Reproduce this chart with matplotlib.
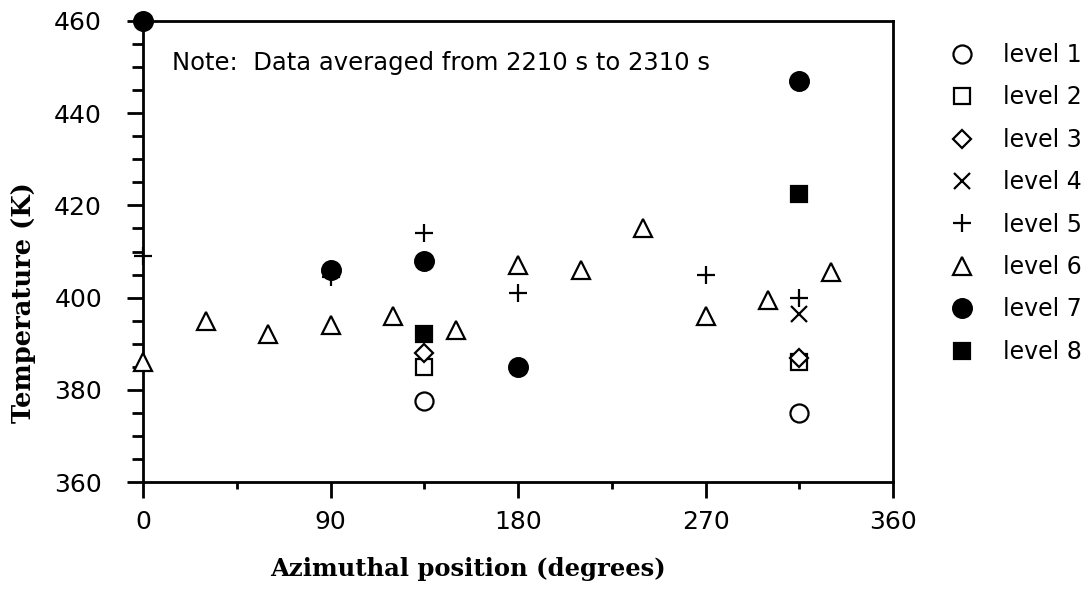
import matplotlib.pyplot as plt
from matplotlib.ticker import MultipleLocator

# ----- values ----------------------------------------------------------------
LABELS = ["level 1", "level 2", "level 3", "level 4",
          "level 5", "level 6", "level 7", "level 8"]

X_L1 = [135, 315]
Y_L1 = [377.5, 375]
X_L2 = [135, 315]
Y_L2 = [385, 386]
X_L3 = [135, 315]
Y_L3 = [388, 387]
X_L4 = [315]
Y_L4 = [396.5]
X_L5 = [0, 90, 135, 180, 270, 315]
Y_L5 = [409, 404.5, 414, 401, 405, 400]
X_L6 = [0, 30, 60, 90, 120, 150, 180, 210, 240, 270, 300, 330]
Y_L6 = [386, 395, 392, 394, 396, 393, 407, 406, 415, 396, 399.5, 405.5]
X_L7 = [0, 90, 135, 180, 315]
Y_L7 = [460, 406, 408, 385, 447]
X_L8 = [135, 315]
Y_L8 = [392, 422.5]

X_TICKS = [0, 90, 180, 270, 360]
Y_TICKS = [360, 380, 400, 420, 440, 460]
NOTE = "Note:  Data averaged from 2210 s to 2310 s"
# ------------------------------------------------------------------------------

# marker, size, face colour
STYLES = [
    ("o", 13, "white"),
    ("s", 11.5, "white"),
    ("D", 9.5, "white"),
    ("x", 12, "black"),
    ("+", 12.5, "black"),
    ("^", 12.5, "white"),
    ("o", 13.5, "black"),
    ("s", 11, "black"),
]


def main():
    fig = plt.figure(figsize=(10.92, 5.91), dpi=100)
    ax = fig.add_axes([0.131, 0.1844, 0.6868, 0.7801])

    xs = [X_L1, X_L2, X_L3, X_L4, X_L5, X_L6, X_L7, X_L8]
    ys = [Y_L1, Y_L2, Y_L3, Y_L4, Y_L5, Y_L6, Y_L7, Y_L8]
    for x, y, lab, (m, ms, fc) in zip(xs, ys, LABELS, STYLES):
        ax.plot(x, y, linestyle="none", marker=m, ms=ms, mfc=fc, mec="black",
                mew=1.6, clip_on=False, label=lab, zorder=3)

    ax.set_xlim(0, 360)
    ax.set_ylim(360, 460)
    ax.set_xticks(X_TICKS)
    ax.set_yticks(Y_TICKS)
    ax.xaxis.set_minor_locator(MultipleLocator(45))
    ax.yaxis.set_minor_locator(MultipleLocator(5))

    for s in ax.spines.values():
        s.set_linewidth(2.0)
    ax.tick_params(which="major", direction="out", width=2.0, labelsize=18)
    ax.tick_params(axis="x", which="major", length=11.5, pad=9)
    ax.tick_params(axis="y", which="major", length=11.5, pad=18)
    ax.tick_params(axis="x", which="minor", direction="out", length=5, width=2.0)
    ax.tick_params(axis="y", which="minor", direction="out", length=8, width=2.0)

    ax.set_xlabel("Azimuthal position (degrees)", fontsize=17.5,
                  fontweight="bold", family="DejaVu Serif")
    ax.set_ylabel("Temperature (K)", fontsize=18.5,
                  fontweight="bold", family="DejaVu Serif")
    ax.xaxis.set_label_coords(0.433, -0.162)
    ax.yaxis.set_label_coords(-0.143, 0.39)

    ax.text(0.0387, 0.8937, NOTE, transform=ax.transAxes, fontsize=17.5,
            va="baseline", ha="left")

    fig.legend(loc="upper left", bbox_to_anchor=(950 / 1092, 1 - 43 / 591),
               frameon=False, fontsize=17, handlelength=1.0,
               handletextpad=1.25, labelspacing=0.78, borderpad=0,
               borderaxespad=0, numpoints=1)

    fig.savefig("out.png", dpi=100)


if __name__ == "__main__":
    main()
